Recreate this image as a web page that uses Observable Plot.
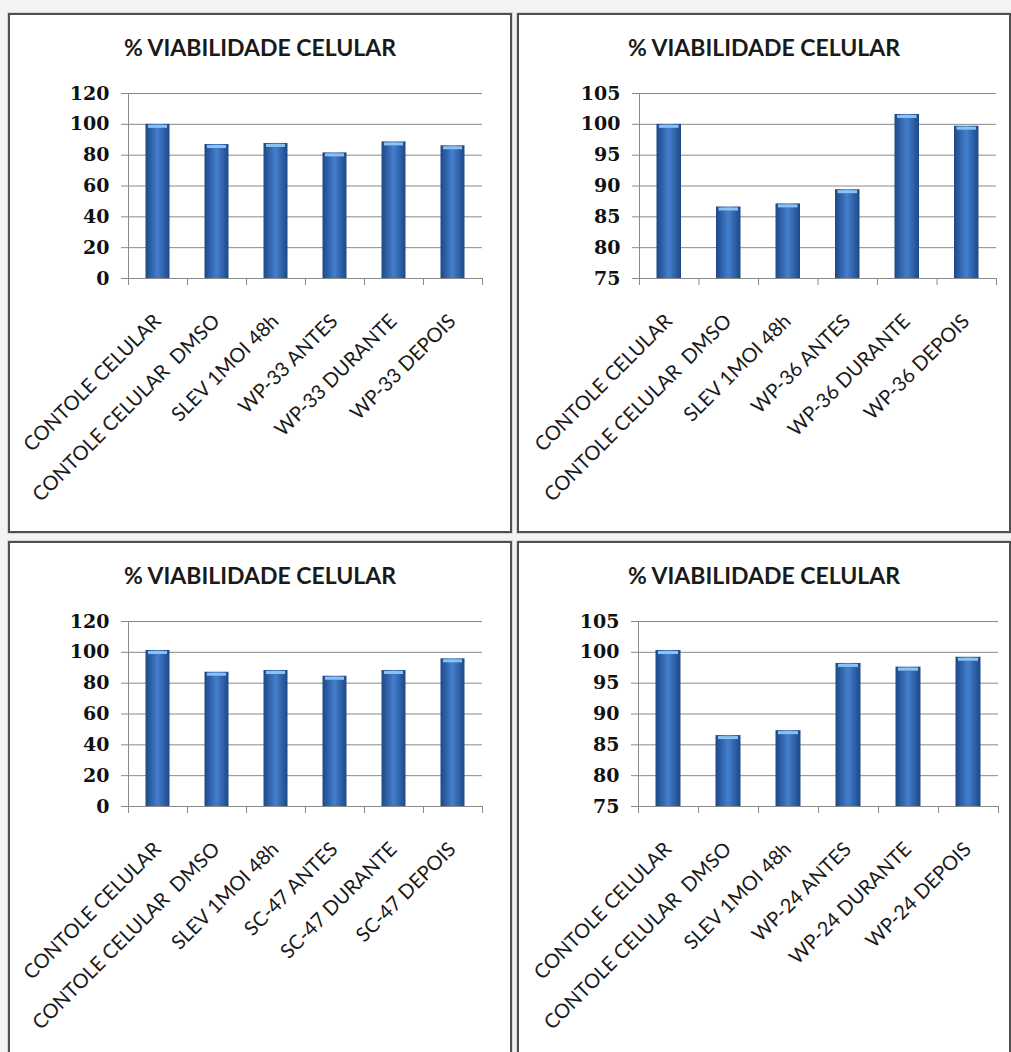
<!DOCTYPE html>
<html><head><meta charset="utf-8">
<script src="https://cdn.jsdelivr.net/npm/d3@7"></script>
<script src="https://cdn.jsdelivr.net/npm/@observablehq/plot@0.6"></script>
<style>
html,body{margin:0;padding:0;}
body{width:1011px;height:1052px;background:#f3f3f3;position:relative;overflow:hidden;font-family:Lato,sans-serif;}
.box{position:absolute;background:#fff;border:2px solid #505050;box-shadow:0 0 0 1px #d6d6d6;box-sizing:border-box;overflow:hidden;}
.title{position:absolute;left:0;right:0;top:18px;text-align:center;font-family:Lato,sans-serif;font-weight:bold;font-size:23px;color:#1a1a1a;line-height:28px;}
.chart{position:absolute;left:0;top:60px;}
svg text{white-space:pre;}
</style></head>
<body>
<svg width="0" height="0" style="position:absolute">
  <defs>
    <linearGradient id="barGrad" x1="0" x2="1" y1="0" y2="0">
      <stop offset="0" stop-color="#1d4884"/>
      <stop offset="0.3" stop-color="#3469b3"/>
      <stop offset="0.5" stop-color="#447fcc"/>
      <stop offset="0.7" stop-color="#3469b3"/>
      <stop offset="1" stop-color="#1d4884"/>
    </linearGradient>
  </defs>
</svg>
<script>
const chartTitle = "% VIABILIDADE CELULAR";

const categoriesWP33 = ["CONTOLE CELULAR", "CONTOLE CELULAR  DMSO", "SLEV 1MOI 48h", "WP-33 ANTES", "WP-33 DURANTE", "WP-33 DEPOIS"];
const valuesWP33 = [100, 86.9, 87.6, 81.5, 88.6, 86.1];

const categoriesWP36 = ["CONTOLE CELULAR", "CONTOLE CELULAR  DMSO", "SLEV 1MOI 48h", "WP-36 ANTES", "WP-36 DURANTE", "WP-36 DEPOIS"];
const valuesWP36 = [100, 86.6, 87.1, 89.4, 101.6, 99.7];

const categoriesSC47 = ["CONTOLE CELULAR", "CONTOLE CELULAR  DMSO", "SLEV 1MOI 48h", "SC-47 ANTES", "SC-47 DURANTE", "SC-47 DEPOIS"];
const valuesSC47 = [101.2, 87.1, 88.2, 84.5, 88.2, 95.8];

const categoriesWP24 = ["CONTOLE CELULAR", "CONTOLE CELULAR  DMSO", "SLEV 1MOI 48h", "WP-24 ANTES", "WP-24 DURANTE", "WP-24 DEPOIS"];
const valuesWP24 = [100.3, 86.5, 87.3, 98.2, 97.6, 99.2];

const yTicksWide = [0, 20, 40, 60, 80, 100, 120];
const yTicksNarrow = [75, 80, 85, 90, 95, 100, 105];

function panel(cats, vals, ticks, box) {
  const div = document.createElement("div");
  div.className = "box";
  Object.assign(div.style, {left: box.left + "px", top: box.top + "px", width: box.w + "px", height: box.h + "px"});
  const t = document.createElement("div");
  t.className = "title";
  t.textContent = chartTitle;
  div.appendChild(t);
  const rows = cats.map((c, i) => ({i, cat: c, value: vals[i]}));
  const ymin = ticks[0], ymax = ticks[ticks.length - 1];
  const inner = box.w - 4;
  const chart = Plot.plot({
    width: inner, height: 440,
    marginLeft: box.ml, marginRight: box.mr, marginTop: 18, marginBottom: 237,
    x: {domain: [0, cats.length], axis: null},
    y: {domain: [ymin, ymax], axis: null},
    style: {background: "transparent", overflow: "visible"},
    marks: [
      Plot.gridY(ticks, {stroke: "#8a8a8a", strokeOpacity: 1}),
      Plot.rectY(rows, {x1: "i", x2: d => d.i + 1, y1: ymin, y2: "value", fill: "url(#barGrad)", insetLeft: 17.5, insetRight: 17.5}),
      Plot.ruleY(rows, {x1: "i", x2: d => d.i + 1, y: "value", dy: 2, insetLeft: 20, insetRight: 20, stroke: "#8cc2f2", strokeWidth: 3}),
      Plot.ruleX([0], {stroke: "#8a8a8a"}),
      Plot.ruleY([ymin], {stroke: "#8a8a8a"}),
      Plot.axisY(ticks, {label: null, tickSize: 7, tickPadding: 12, stroke: "#8a8a8a", fill: "#111", fontFamily: "DejaVu Serif", fontWeight: "bold", fontSize: 19, tickFormat: d => String(d)}),
      Plot.axisX(d3.range(0, cats.length + 1), {label: null, tickSize: 7, tickFormat: () => "", stroke: "#8a8a8a"}),
      Plot.text(rows, {x: d => d.i + 0.5, y: ymin, text: "cat", rotate: -45, textAnchor: "end", lineAnchor: "bottom", dx: 4, dy: 44, fontSize: 20, fontFamily: "Lato", fill: "#1a1a1a"})
    ]
  });
  chart.classList.add("chart");
  div.appendChild(chart);
  document.body.appendChild(div);
}

panel(categoriesWP33, valuesWP33, yTicksWide, {left: 8, top: 13, w: 504, h: 520, ml: 118, mr: 28});
panel(categoriesWP36, valuesWP36, yTicksNarrow, {left: 517, top: 13, w: 494, h: 520, ml: 120, mr: 13});
panel(categoriesSC47, valuesSC47, yTicksWide, {left: 8, top: 541, w: 504, h: 540, ml: 118, mr: 28});
panel(categoriesWP24, valuesWP24, yTicksNarrow, {left: 517, top: 541, w: 494, h: 540, ml: 119, mr: 11});
</script>
</body></html>
